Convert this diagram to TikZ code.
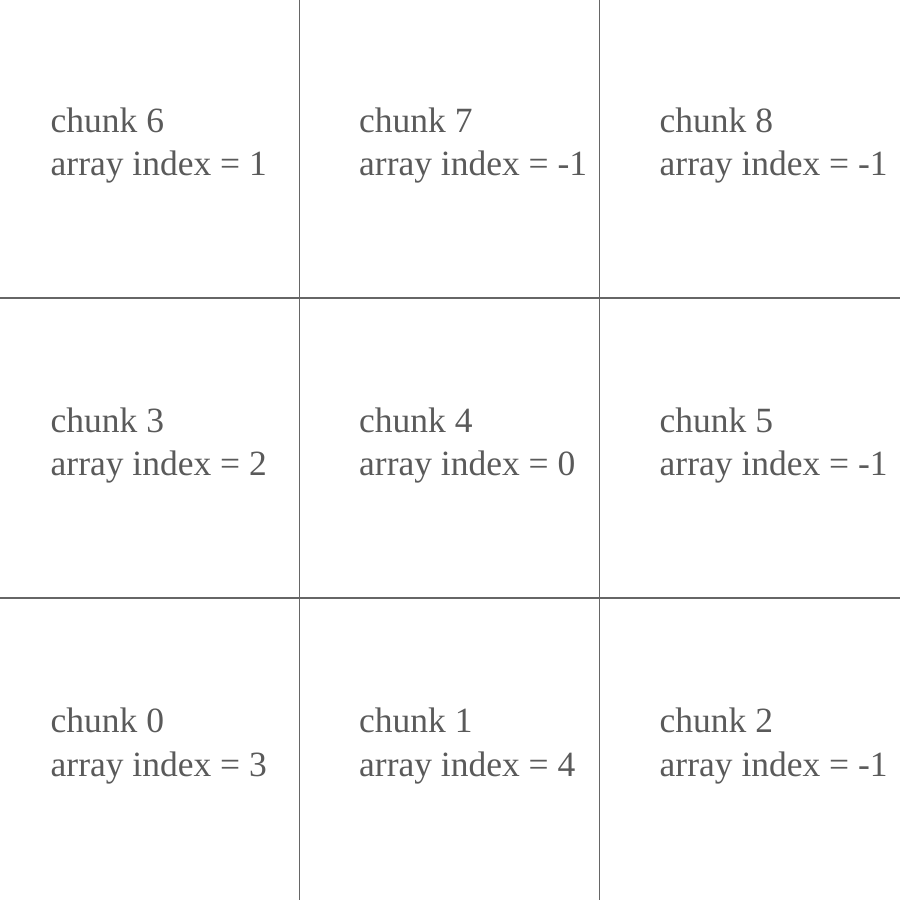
\documentclass[tikz,border=0pt]{standalone}
\usepackage{fontspec}
\setmainfont{Liberation Serif}
\usepackage{xcolor}
\definecolor{gridline}{HTML}{666666}
\definecolor{chunktext}{HTML}{5A5A5A}

\begin{document}
\begin{tikzpicture}[scale=0.1]
        \tikzstyle{every node}+=[inner sep=0pt]
        \tikzstyle{chunk}=[anchor=base west,align=left,text=chunktext,font=\fontsize{10.1}{12.4}\selectfont]
        \useasboundingbox (0,0) rectangle (90,-90);
        \draw [gridline,line width=0.4pt] (29.95,0) -- (29.95,-90);
        \draw [gridline,line width=0.4pt] (59.95,0) -- (59.95,-90);
        \draw [gridline,line width=0.4pt] (0,-29.8) -- (90,-29.8);
        \draw [gridline,line width=0.4pt] (0,-59.8) -- (90,-59.8);
        \draw (5,-17.6) node (c6) [chunk] {chunk 6\\array index = 1};
        \draw (35.85,-17.6) node (c7) [chunk] {chunk 7\\array index = -1};
        \draw (65.9,-17.6) node (c8) [chunk] {chunk 8\\array index = -1};
        \draw (5,-47.6) node (c3) [chunk] {chunk 3\\array index = 2};
        \draw (35.85,-47.6) node (c4) [chunk] {chunk 4\\array index = 0};
        \draw (65.9,-47.6) node (c5) [chunk] {chunk 5\\array index = -1};
        \draw (5,-77.6) node (c0) [chunk] {chunk 0\\array index = 3};
        \draw (35.85,-77.6) node (c1) [chunk] {chunk 1\\array index = 4};
        \draw (65.9,-77.6) node (c2) [chunk] {chunk 2\\array index = -1};
\end{tikzpicture}
\end{document}
